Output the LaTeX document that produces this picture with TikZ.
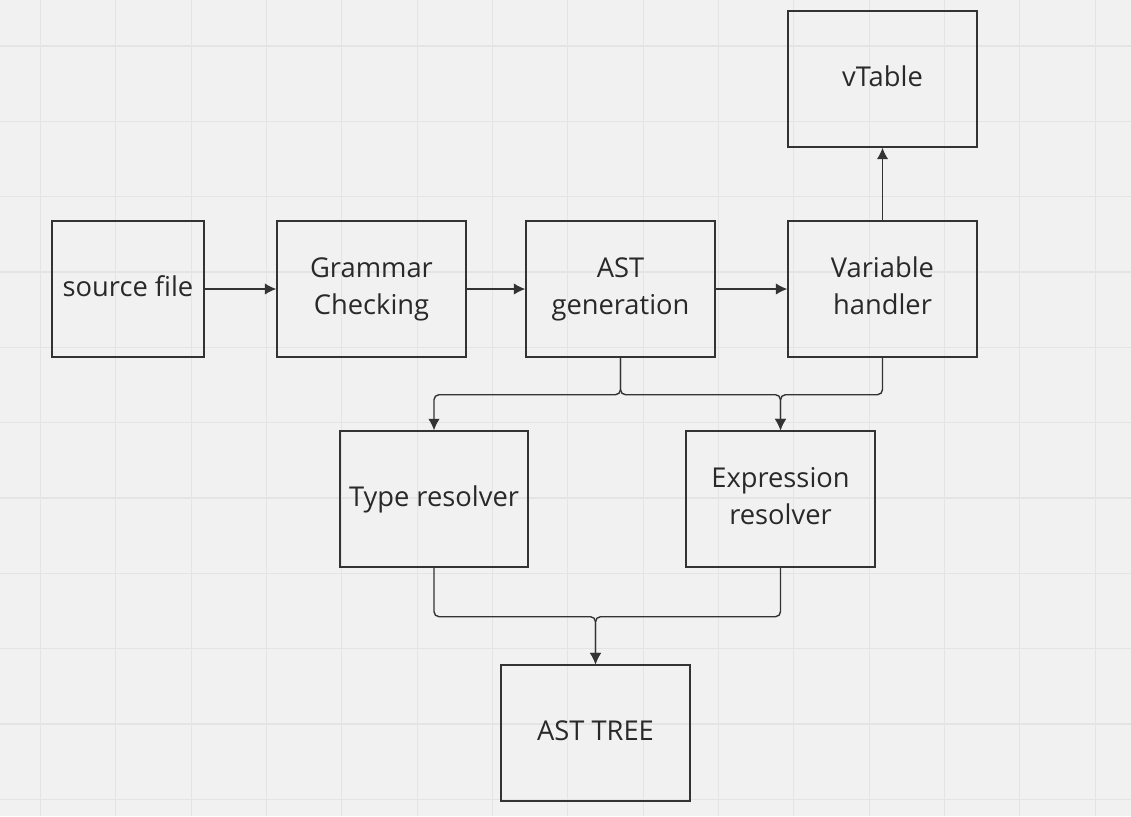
\documentclass[tikz,border=0pt]{standalone}
\usepackage{fontspec}
\setmainfont{Open Sans}
\usetikzlibrary{arrows.meta}
\definecolor{bg}{HTML}{F1F1F1}
\definecolor{gridc}{HTML}{E4E4E4}
\definecolor{ink}{HTML}{333333}
\newcommand{\bl}[1]{\strut #1}
\tikzset{
  box/.style={draw=ink, line width=1.4pt, align=center, font=\fontsize{27.3}{37}\selectfont, text=ink!80!black, inner sep=0pt},
  conn/.style={draw=ink, line width=1.4pt, -{Latex[length=11.5pt,width=11.5pt]}},
  rconn/.style={conn, rounded corners=5pt}
}
\begin{document}
\begin{tikzpicture}[x=1pt,y=-1pt]
\fill[bg] (0,0) rectangle (1131,816);
\useasboundingbox (0,0) rectangle (1131,816);
\foreach \i in {0,...,14} {
  \draw[gridc, line width=1.2pt] ({40.5+75.33*\i},0) -- ({40.5+75.33*\i},816);
}
\foreach \j in {0,...,10} {
  \draw[gridc, line width=1.2pt] (0,{46+75.33*\j}) -- (1131,{46+75.33*\j});
}
\node[box, minimum width=152pt, minimum height=136pt] (src) at (128,289) {\bl{source file}};
\node[box, minimum width=189pt, minimum height=136pt] (gram) at (371.5,289) {\bl{Grammar}\\\bl{Checking}};
\node[box, minimum width=189pt, minimum height=136pt] (astg) at (620.5,289) {\bl{AST}\\\bl{generation}};
\node[box, minimum width=189pt, minimum height=136pt] (var) at (882.5,289) {\bl{Variable}\\\bl{handler}};
\node[box, minimum width=189pt, minimum height=136pt] (vt) at (882.5,79) {\bl{vTable}};
\node[box, minimum width=188pt, minimum height=136pt] (type) at (434,499) {\bl{Type resolver}};
\node[box, minimum width=189pt, minimum height=136pt] (expr) at (780.5,499) {\bl{Expression}\\\bl{resolver}};
\node[box, minimum width=189pt, minimum height=136pt] (tree) at (595.5,733) {\bl{AST TREE}};

\draw[conn] (src) -- (gram);
\draw[conn] (gram) -- (astg);
\draw[conn] (astg) -- (var);
\draw[conn] (var) -- (vt);
\draw[rconn] (astg.south) -- ++(0,37) -| (type.north);
\draw[rconn] (astg.south) -- ++(0,37) -| (expr.north);
\draw[rconn] (var.south) -- ++(0,37) -| (expr.north);
\draw[rconn] (type.south) -- ++(0,49) -| (tree.north);
\draw[rconn] (expr.south) -- ++(0,49) -| (tree.north);
\end{tikzpicture}
\end{document}
